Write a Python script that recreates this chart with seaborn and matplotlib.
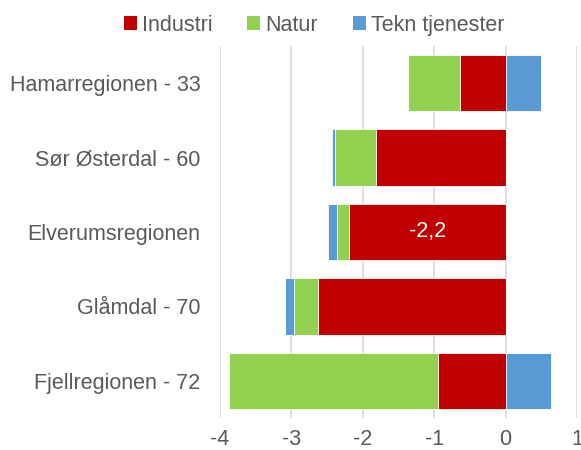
import matplotlib
matplotlib.use("Agg")
import matplotlib.pyplot as plt
from matplotlib.patches import Patch
import seaborn as sns
import numpy as np

categories = ["Hamarregionen - 33", "Sør Østerdal - 60", "Elverumsregionen", "Glåmdal - 70", "Fjellregionen - 72"]
industri = [-0.645, -1.82, -2.19, -2.63, -0.95]
natur = [-0.725, -0.57, -0.165, -0.33, -2.92]
tekn = [0.49, -0.04, -0.13, -0.135, 0.63]
series_names = ["Industri", "Natur", "Tekn tjenester"]
colors = ["#C00000", "#92D050", "#5B9BD5"]
xticks = [-4, -3, -2, -1, 0, 1]
label_text = "-2,2"

sns.set_theme(style="white")
plt.rcParams['font.family'] = ['Liberation Sans', 'DejaVu Sans']

FS = 15.5
fig = plt.figure(figsize=(5.81, 4.5), dpi=100)
ax = fig.add_axes([220/581, 1-418/450, (577-220)/581, (418-46)/450])

ind = np.array(industri)
nat = np.array(natur)
tek = np.array(tekn)
neg_total = ind + nat + np.minimum(tek, 0)
ind_nat = ind + nat
pos_tek = np.maximum(tek, 0)

kw = dict(y=categories, orient="h", order=categories, width=0.76, saturation=1,
          edgecolor="white", linewidth=0.6, ax=ax, errorbar=None)
sns.barplot(x=neg_total, color=colors[2], **kw)
sns.barplot(x=ind_nat, color=colors[1], **kw)
sns.barplot(x=ind, color=colors[0], **kw)
sns.barplot(x=pos_tek, color=colors[2], **kw)

ax.set_xlim(-4, 1)
ax.set_ylim(4.5, -0.5)
ax.set_xticks(xticks)
ax.set_xticklabels([str(t) for t in xticks])
ax.xaxis.grid(True, color="#D9D9D9", linewidth=1.2)
ax.set_axisbelow(True)
for s in ax.spines.values():
    s.set_visible(False)
ax.tick_params(axis="both", length=0, labelsize=FS, colors="#595959")
ax.tick_params(axis="y", pad=14)
ax.tick_params(axis="x", pad=8)
ax.set_xlabel("")
ax.set_ylabel("")

ax.text(ind[2] / 2, 2, label_text, color="white", ha="center", va="center", fontsize=FS)

handles = [Patch(facecolor=c, edgecolor="none") for c in colors]
fig.legend(handles, series_names, loc="center", bbox_to_anchor=(0.541, 0.944), ncol=3,
           frameon=False, fontsize=FS, handlelength=0.6, handleheight=0.6,
           handletextpad=0.25, columnspacing=1.6, labelcolor="#595959")

fig.savefig("out.png", dpi=100)
